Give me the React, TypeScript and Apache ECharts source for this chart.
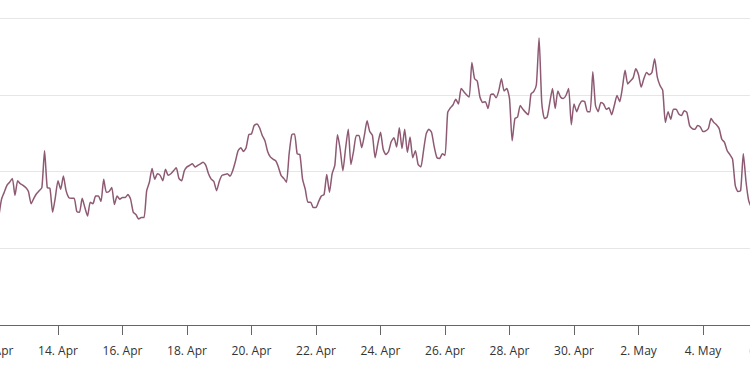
import React, { useEffect, useRef } from "react";
import * as echarts from "echarts";

// Time series: 2-hourly readings starting 12 Apr 04:00
const START_HOUR = 4; // hours after 12 Apr 00:00
const STEP_HOURS = 2;
const MONTHS = ["Jan", "Feb", "Mar", "Apr", "May", "Jun", "Jul", "Aug", "Sep", "Oct", "Nov", "Dec"];

const apr12to15 = [
  14.2, 16.4, 17.3, 18.2, 18.6, 19.1, 16.9, 18.8, 18.4, 18.2,
  17.9, 17.4, 15.8, 16.5, 17.1, 17.5, 17.9, 22.7, 17.9, 17.8, 14.7, 16.6,
  18.8, 17.7, 19.4, 17.5, 16.6, 16.5, 16.5, 14.8, 14.7, 16.5, 15.3, 14.2,
  16.0, 15.8, 16.8, 16.8, 16.1, 19.0, 17.3, 17.4, 17.9, 15.7, 16.8, 16.4,
];
const apr16to19 = [
  16.6, 16.6, 17.0, 16.4, 14.7, 14.4, 13.8, 14.0, 14.0, 17.5, 18.6, 20.4,
  19.0, 19.7, 19.5, 18.8, 20.3, 19.5, 19.7, 20.1, 20.5, 19.1, 18.8, 20.1,
  20.6, 20.8, 21.0, 20.6, 20.8, 21.0, 21.2, 20.8, 19.7, 19.0, 18.7, 17.5,
  18.7, 19.5, 19.6, 19.7, 19.4, 20.1, 21.3, 22.7, 23.1, 22.6, 23.1, 24.8,
];
const apr20to23 = [
  24.9, 26.0, 26.2, 25.7, 24.7, 24.0, 22.6, 21.9, 21.6, 21.4, 20.6, 19.5,
  19.1, 18.6, 22.3, 24.8, 24.9, 22.3, 22.2, 19.0, 17.7, 16.0, 16.0, 15.3,
  15.3, 16.1, 16.8, 17.0, 19.6, 17.3, 19.7, 20.8, 24.8, 22.9, 20.1, 23.0,
  25.5, 20.9, 22.7, 24.7, 24.7, 23.1, 24.7, 26.6, 25.2, 24.7, 21.8, 23.6,
];
const apr24to27 = [
  25.1, 22.9, 22.2, 22.6, 23.9, 24.4, 23.2, 25.7, 23.0, 25.5, 22.5, 24.5,
  21.8, 22.7, 20.9, 20.6, 22.7, 24.9, 25.5, 25.1, 23.2, 21.8, 21.7, 22.3,
  22.1, 27.7, 28.3, 28.7, 29.4, 28.8, 30.8, 30.4, 30.0, 29.7, 34.2, 32.1,
  31.8, 29.7, 29.0, 29.1, 28.2, 30.0, 30.1, 29.6, 30.5, 32.1, 30.5, 30.8,
];
const apr28toMay1 = [
  29.5, 24.0, 26.9, 27.1, 28.6, 28.1, 27.7, 27.4, 30.1, 30.4, 31.3, 37.4,
  29.0, 26.9, 27.1, 29.0, 30.8, 28.2, 30.5, 29.7, 29.5, 29.9, 30.8, 26.1,
  28.8, 27.8, 28.7, 29.2, 29.1, 27.8, 27.8, 33.0, 28.6, 27.8, 29.0, 28.8,
  28.1, 28.3, 27.4, 28.6, 29.9, 29.1, 30.9, 33.2, 31.4, 31.8, 32.2, 33.4,
];
const may2to5 = [
  32.6, 31.0, 32.1, 32.9, 32.6, 32.9, 34.7, 32.3, 31.2, 30.6, 26.4, 27.8,
  26.8, 28.1, 28.1, 27.5, 27.3, 27.9, 27.7, 26.0, 25.6, 25.5, 26.0, 25.8,
  25.2, 25.3, 25.6, 26.9, 26.4, 26.1, 25.6, 24.2, 23.8, 22.7, 22.2, 21.6,
  18.2, 17.4, 17.5, 22.3, 18.7, 16.2, 15.3,
];

const values = [...apr12to15, ...apr16to19, ...apr20to23, ...apr24to27, ...apr28toMay1, ...may2to5];

// x axis: hours since 12 Apr 00:00, ticks every 2 days, 12 Apr to 6 May
const X_MIN = 0;
const X_MAX = 24 * 24;
const X_INTERVAL = 48;
const Y_MIN = 0;
const Y_MAX = 40;
const Y_INTERVAL = 10;

function formatTick(h: number): string {
  const d = new Date(2024, 3, 12, 0, 0, 0);
  d.setHours(d.getHours() + h);
  return `${d.getDate()}. ${MONTHS[d.getMonth()]}`;
}

export default function App() {
  const ref = useRef<HTMLDivElement>(null);

  useEffect(() => {
    if (!ref.current) return;
    const chart = echarts.init(ref.current, undefined, { renderer: "svg" });
    const data = values.map((v, i) => [START_HOUR + i * STEP_HOURS, v]);
    chart.setOption({
      animation: false,
      backgroundColor: "#ffffff",
      grid: { left: 43.5, right: 82.5, top: 18, bottom: 50, containLabel: false },
      xAxis: {
        type: "value",
        min: X_MIN,
        max: X_MAX,
        interval: X_INTERVAL,
        axisLine: { show: true, lineStyle: { color: "#666666", width: 1 } },
        axisTick: { show: true, length: 10, lineStyle: { color: "#666666", width: 1 } },
        axisLabel: {
          show: true,
          margin: 19,
          color: "#333333",
          fontSize: 12,
          fontFamily: "Open Sans",
          formatter: (v: number) => formatTick(v),
          showMinLabel: true,
          showMaxLabel: true,
        },
        splitLine: { show: false },
      },
      yAxis: {
        type: "value",
        min: Y_MIN,
        max: Y_MAX,
        interval: Y_INTERVAL,
        axisLine: { show: false },
        axisTick: { show: false },
        axisLabel: { show: false },
        splitLine: { show: true, lineStyle: { color: "#e6e6e6", width: 1 } },
      },
      series: [
        {
          type: "line",
          data,
          showSymbol: false,
          smooth: 0.2,
          lineStyle: { color: "#8e5a73", width: 1.5 },
          itemStyle: { color: "#8e5a73" },
        },
      ],
    });
    return () => chart.dispose();
  }, []);

  return (
    <div
      style={{
        position: "fixed",
        left: 0,
        top: 0,
        width: 750,
        height: 375,
        overflow: "hidden",
        background: "#ffffff",
      }}
    >
      <div ref={ref} style={{ position: "absolute", left: -50, top: 0, width: 900, height: 375 }} />
    </div>
  );
}
